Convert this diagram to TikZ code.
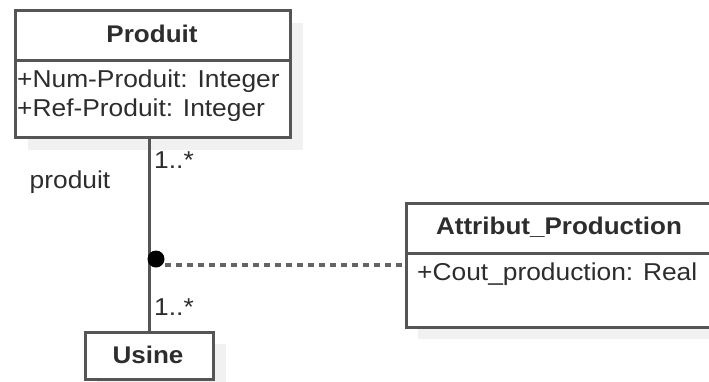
\documentclass[tikz,border=0pt]{standalone}
\usepackage{fontspec}
\setmainfont[FakeStretch=1.08]{Liberation Sans}
\definecolor{boxgray}{RGB}{85,85,85}
\definecolor{shadowgray}{RGB}{241,241,241}
\definecolor{textgray}{RGB}{45,45,45}
\definecolor{dashgray}{RGB}{100,100,100}
\begin{document}
\begin{tikzpicture}[x=1pt,y=-1pt,
  box/.style={draw=boxgray, line width=3pt, fill=white, inner sep=0pt, anchor=north west},
  shadowbox/.style={fill=shadowgray, draw=none},
  txt/.style={text=textgray, font=\fontsize{24.4}{28}\selectfont, inner sep=0pt},
  btxt/.style={text=textgray, font=\fontsize{24.1}{28}\selectfont\bfseries, inner sep=0pt},
  divider/.style={draw=boxgray, line width=3pt},
  assoc/.style={draw=boxgray, line width=3.2pt},
  dashline/.style={draw=dashgray, line width=3.2pt, dash pattern=on 6pt off 5pt}]
\useasboundingbox (0,0) rectangle (709,381);
\clip (0,0) rectangle (709,381);
% shadows
\fill[shadowbox] (28,23) rectangle (303,150);
\fill[shadowbox] (418,215) rectangle (725,339);
\fill[shadowbox] (97,344) rectangle (226,395);
% Produit
\node[box, minimum width=275pt, minimum height=127pt] (produit) at (14,9) {};
\coordinate (pdiv) at (14,60);
\draw[divider] (pdiv) -- (produit.east |- pdiv);
\node[btxt] (ptitle) at (152,34) {Produit};
\node[txt, anchor=base west] (pa1) at (17,87) {+Num-Produit: Integer};
\node[txt, anchor=base west] (pa2) at (17,116) {+Ref-Produit: Integer};
% Attribut_Production
\node[box, minimum width=320pt, minimum height=124pt] (attr) at (405,202) {};
\coordinate (adiv) at (405,253);
\draw[divider] (adiv) -- (attr.east |- adiv);
\node[btxt] (atitle) at (559,227) {Attribut\_Production};
\node[txt, anchor=base west] (aa1) at (417,280) {+Cout\_production: Real};
% Usine
\node[box, minimum width=128pt, minimum height=47pt] (usine) at (84,331) {};
\node[btxt] (utitle) at (148,355) {Usine};
% association
\draw[assoc] (usine.north |- produit.south) -- (usine.north);
\node[circle, fill=black, inner sep=0pt, minimum size=17pt] (dot) at (156,259) {};
\coordinate (dstart) at (165,265);
\draw[dashline] (dstart) -- (attr.west |- dstart);
% labels
\node[txt] (lrole) at (70,182) {produit};
\node[txt, anchor=west] (m1) at (154,160) {1..*};
\node[txt, anchor=west] (m2) at (154,307) {1..*};
\end{tikzpicture}
\end{document}
